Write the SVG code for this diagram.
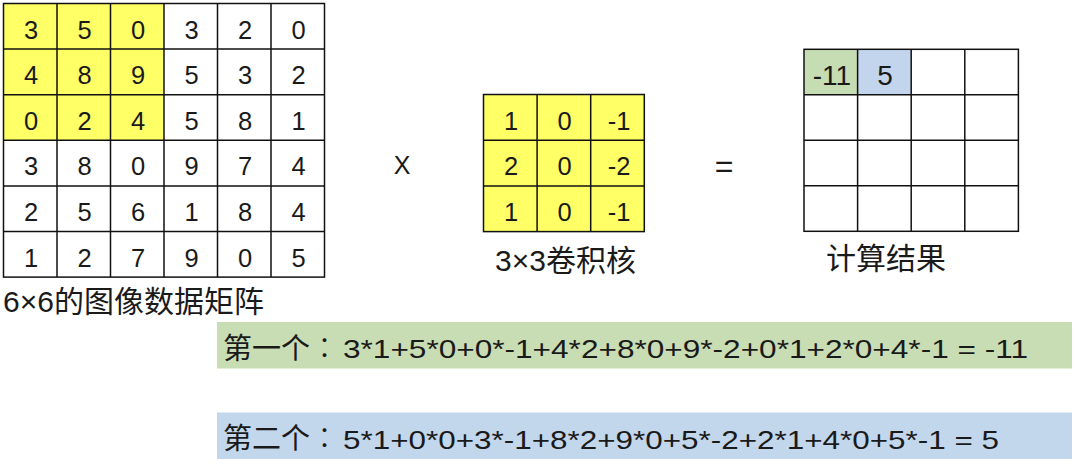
<svg xmlns="http://www.w3.org/2000/svg" width="1080" height="469" viewBox="0 0 1080 469">
<style>
.grid{fill:none;stroke:#111;stroke-width:1.5}
.ln{stroke:#111;stroke-width:1.5}
.yel{fill:#FFFF66}
.num{font-family:"Liberation Sans",Arial,sans-serif;font-size:25.5px;fill:#1a1a1a;text-anchor:middle}
.lbl{font-family:"Liberation Sans","Noto Sans CJK SC",sans-serif;font-size:30px;fill:#1a1a1a}
.cjk{font-family:"Noto Sans CJK SC",sans-serif;font-size:29px;fill:#1a1a1a}
.eq{font-family:"Liberation Sans",Arial,sans-serif;font-size:25px;fill:#1a1a1a}
</style>
<rect width="1080" height="469" fill="#fff"/>

<g id="image-matrix">
<rect class="yel" x="3.5" y="3.5" width="160.5" height="136.8"/>
<rect class="grid" x="3.5" y="3.5" width="321" height="273.6"/>
<line class="ln" x1="57" y1="3.5" x2="57" y2="277.1"/>
<line class="ln" x1="110.5" y1="3.5" x2="110.5" y2="277.1"/>
<line class="ln" x1="164" y1="3.5" x2="164" y2="277.1"/>
<line class="ln" x1="217.5" y1="3.5" x2="217.5" y2="277.1"/>
<line class="ln" x1="271" y1="3.5" x2="271" y2="277.1"/>
<line class="ln" x1="3.5" y1="49.1" x2="324.5" y2="49.1"/>
<line class="ln" x1="3.5" y1="94.7" x2="324.5" y2="94.7"/>
<line class="ln" x1="3.5" y1="140.3" x2="324.5" y2="140.3"/>
<line class="ln" x1="3.5" y1="185.9" x2="324.5" y2="185.9"/>
<line class="ln" x1="3.5" y1="231.5" x2="324.5" y2="231.5"/>
<text class="num" x="31" y="38.5">3</text><text class="num" x="84.5" y="38.5">5</text><text class="num" x="138" y="38.5">0</text><text class="num" x="191.5" y="38.5">3</text><text class="num" x="245" y="38.5">2</text><text class="num" x="298.5" y="38.5">0</text>
<text class="num" x="31" y="84.1">4</text><text class="num" x="84.5" y="84.1">8</text><text class="num" x="138" y="84.1">9</text><text class="num" x="191.5" y="84.1">5</text><text class="num" x="245" y="84.1">3</text><text class="num" x="298.5" y="84.1">2</text>
<text class="num" x="31" y="129.7">0</text><text class="num" x="84.5" y="129.7">2</text><text class="num" x="138" y="129.7">4</text><text class="num" x="191.5" y="129.7">5</text><text class="num" x="245" y="129.7">8</text><text class="num" x="298.5" y="129.7">1</text>
<text class="num" x="31" y="175.3">3</text><text class="num" x="84.5" y="175.3">8</text><text class="num" x="138" y="175.3">0</text><text class="num" x="191.5" y="175.3">9</text><text class="num" x="245" y="175.3">7</text><text class="num" x="298.5" y="175.3">4</text>
<text class="num" x="31" y="220.9">2</text><text class="num" x="84.5" y="220.9">5</text><text class="num" x="138" y="220.9">6</text><text class="num" x="191.5" y="220.9">1</text><text class="num" x="245" y="220.9">8</text><text class="num" x="298.5" y="220.9">4</text>
<text class="num" x="31" y="266.5">1</text><text class="num" x="84.5" y="266.5">2</text><text class="num" x="138" y="266.5">7</text><text class="num" x="191.5" y="266.5">9</text><text class="num" x="245" y="266.5">0</text><text class="num" x="298.5" y="266.5">5</text>
<text class="lbl" x="3" y="311.5">6×6的图像数据矩阵</text>
</g>

<g id="times-sign">
<text class="num" x="402" y="174" style="font-size:25px">X</text>
</g>

<g id="kernel">
<rect class="yel" x="483.5" y="94.5" width="160.8" height="137.1"/>
<rect class="grid" x="483.5" y="94.5" width="160.8" height="137.1"/>
<line class="ln" x1="537.1" y1="94.5" x2="537.1" y2="231.6"/>
<line class="ln" x1="590.7" y1="94.5" x2="590.7" y2="231.6"/>
<line class="ln" x1="483.5" y1="140.2" x2="644.3" y2="140.2"/>
<line class="ln" x1="483.5" y1="185.9" x2="644.3" y2="185.9"/>
<text class="num" x="511" y="129.5">1</text><text class="num" x="564.5" y="129.5">0</text><text class="num" x="619" y="129.5">-1</text>
<text class="num" x="511" y="175.2">2</text><text class="num" x="564.5" y="175.2">0</text><text class="num" x="619" y="175.2">-2</text>
<text class="num" x="511" y="220.9">1</text><text class="num" x="564.5" y="220.9">0</text><text class="num" x="619" y="220.9">-1</text>
<text class="lbl" x="495" y="270.5">3×3卷积核</text>
</g>

<g id="equals-sign">
<text class="num" x="724" y="176.5" style="font-size:32px">=</text>
</g>

<g id="result">
<rect x="804" y="49.3" width="53.6" height="45.5" fill="#C6DCB2"/>
<rect x="857.6" y="49.3" width="53.6" height="45.5" fill="#C2D5EC"/>
<rect class="grid" x="804" y="49.3" width="214.4" height="182"/>
<line class="ln" x1="857.6" y1="49.3" x2="857.6" y2="231.3"/>
<line class="ln" x1="911.2" y1="49.3" x2="911.2" y2="231.3"/>
<line class="ln" x1="964.8" y1="49.3" x2="964.8" y2="231.3"/>
<line class="ln" x1="804" y1="94.8" x2="1018.4" y2="94.8"/>
<line class="ln" x1="804" y1="140.3" x2="1018.4" y2="140.3"/>
<line class="ln" x1="804" y1="185.8" x2="1018.4" y2="185.8"/>
<text class="num" x="832" y="85" style="font-size:28px">-11</text>
<text class="num" x="885" y="85" style="font-size:28px">5</text>
<text class="lbl" x="826" y="268.5">计算结果</text>
</g>

<g id="calc-first">
<rect x="217" y="322" width="855" height="46.5" fill="#C9DDB4"/>
<text class="cjk" x="223" y="358.5">第一个<tspan style="font-family:'Noto Sans CJK TC',sans-serif;font-weight:300">：</tspan></text>
<text class="eq" x="343" y="358.3" textLength="685" lengthAdjust="spacingAndGlyphs">3*1+5*0+0*-1+4*2+8*0+9*-2+0*1+2*0+4*-1 = -11</text>
</g>

<g id="calc-second">
<rect x="217" y="412.5" width="855" height="46.5" fill="#C2D6EC"/>
<text class="cjk" x="223" y="449.2">第二个<tspan style="font-family:'Noto Sans CJK TC',sans-serif;font-weight:300">：</tspan></text>
<text class="eq" x="343" y="449" textLength="656" lengthAdjust="spacingAndGlyphs">5*1+0*0+3*-1+8*2+9*0+5*-2+2*1+4*0+5*-1 = 5</text>
</g>

<g id="connectors"></g>
</svg>
